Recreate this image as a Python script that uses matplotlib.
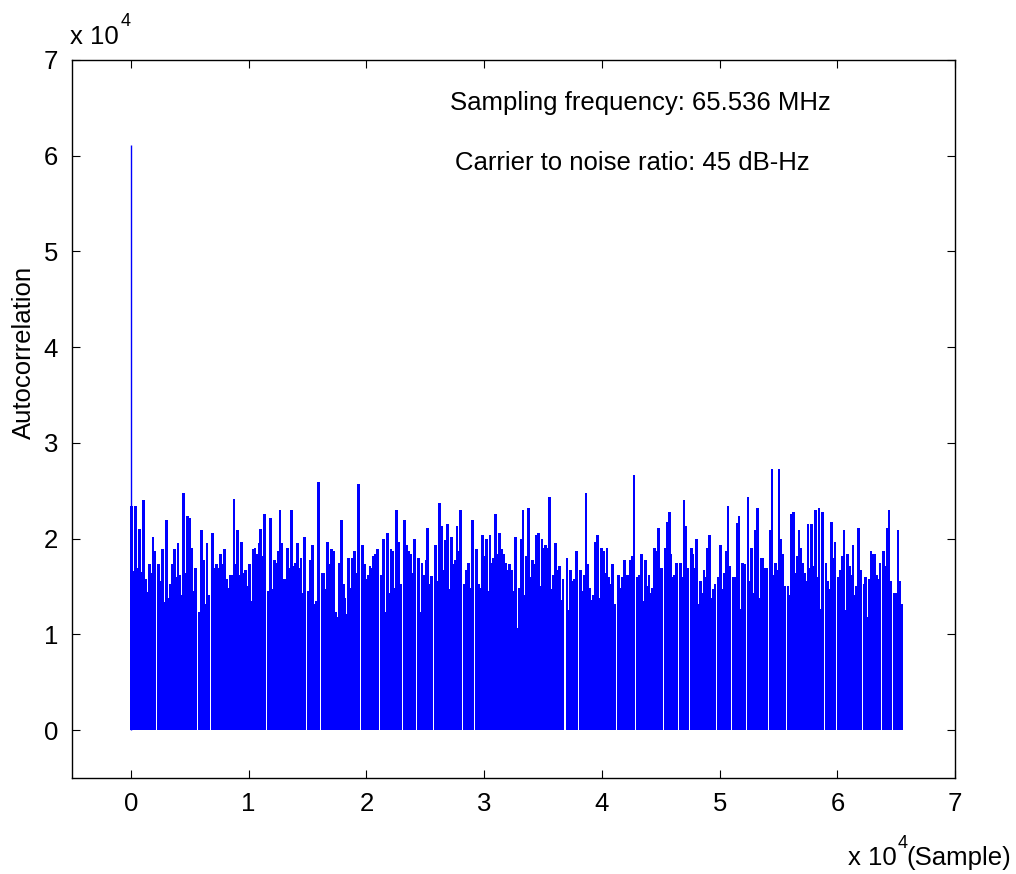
import matplotlib.pyplot as plt
import numpy as np

plt.rcParams['font.family'] = ['Liberation Sans', 'DejaVu Sans']

# autocorrelation, units of 1e4
# (0 marks the thin white gaps)
peak_at_zero = 6.115
seg1 = [2.34, 1.66, 2.34, 1.69, 2.1, 1.65, 2.4, 1.58, 1.44, 1.74, 1.64, 2.02, 1.87, 0, 1.74, 1.56, 1.89,
        1.34, 2.2, 1.38, 1.53, 1.74, 1.89, 1.6, 1.95, 1.62, 1.41, 2.48, 1.64, 2.24, 2.22, 1.9, 1.45, 1.69,
        0, 1.23, 2.09, 1.78, 1.32, 1.95, 1.41, 0, 2.06, 1.69, 1.74, 1.69, 1.84, 1.74, 1.89, 1.58, 1.49,
        1.62, 1.62, 2.41, 1.74, 2.09, 1.62, 1.97, 1.64, 1.67, 1.51, 1.74, 1.35, 1.89, 1.9, 1.84]
seg2 = [1.95, 2.1, 1.82, 2.26, 0, 1.45, 2.22, 1.47, 1.78, 1.75, 1.87, 2.3, 1.95, 1.58, 1.58, 1.9, 1.69,
        2.3, 1.71, 1.75, 1.95, 1.69, 1.8, 1.43, 2.02, 0, 1.45, 1.78, 1.93, 1.32, 1.35, 2.59, 0, 1.64, 1.64,
        1.47, 1.97, 1.74, 1.89, 1.87, 1.23, 1.18, 1.75, 2.2, 1.53, 1.38, 1.21, 1.8, 1.49, 1.8, 1.87, 1.64,
        2.57, 0, 1.93, 1.74, 1.58, 1.62, 1.71, 1.69, 1.82, 1.84, 1.89, 0, 1.62, 2.0, 1.23, 2.06]
seg3 = [1.43, 1.89, 1.87, 1.49, 2.3, 1.97, 1.53, 0, 2.2, 1.93, 1.87, 1.84, 1.64, 2.0, 0, 1.8, 1.23, 1.75,
        1.62, 1.78, 2.11, 1.53, 1.61, 0, 1.93, 1.56, 2.37, 2.13, 1.67, 1.99, 2.15, 1.47, 2.02, 1.74, 1.78,
        2.13, 1.87, 2.3, 0, 1.53, 1.67, 1.75, 1.49, 2.2, 0, 1.89, 1.53, 1.49, 2.04, 1.82, 2.0, 1.45, 2.04,
        1.75, 1.8, 2.26, 1.84, 2.06, 1.89, 1.84, 1.75, 1.67, 1.74, 1.67, 1.45, 2.02, 1.07]
seg4 = [1.49, 2.0, 2.3, 1.41, 1.82, 2.32, 1.6, 1.78, 1.74, 2.04, 2.06, 1.51, 2.0, 1.9, 1.93, 1.9, 2.44,
        1.47, 1.62, 1.95, 1.67, 1.71, 1.36, 1.58, 0, 1.8, 1.25, 1.67, 1.56, 1.58, 1.87, 0, 1.67, 1.45, 1.62,
        2.48, 1.74, 1.49, 1.36, 1.41, 1.97, 2.04, 1.38, 1.9, 1.87, 1.64, 1.9, 1.6, 1.53, 1.74, 1.32, 0,
        1.62, 1.49, 1.6, 1.78, 1.62, 1.62, 1.78, 1.82, 2.66, 0, 1.6, 1.62, 1.84, 1.35, 1.78, 1.51]
seg5 = [1.62, 1.43, 1.49, 1.9, 1.87, 2.11, 1.69, 1.69, 0, 1.9, 2.17, 2.28, 1.84, 1.6, 1.62, 1.75, 0, 1.75,
        1.6, 2.4, 2.13, 1.69, 0, 1.9, 1.84, 1.69, 2.0, 1.32, 1.56, 1.43, 1.67, 1.6, 1.9, 2.04, 1.38, 1.47,
        1.53, 0, 1.6, 1.93, 1.47, 1.64, 1.87, 2.34, 1.71, 0, 1.6, 1.6, 2.16, 2.24, 1.27, 1.75, 1.74, 0,
        2.44, 1.56, 1.9, 1.43, 2.09, 2.32, 1.38, 1.8, 1.8, 1.69, 1.69, 0, 2.09, 2.73, 1.62, 1.75, 1.67]
seg6 = [2.73, 2.0, 1.84, 1.51, 0, 1.51, 1.41, 2.26, 2.28, 1.64, 1.82, 2.09, 1.9, 1.75, 1.64, 1.56, 2.15,
        1.69, 2.15, 1.71, 2.3, 1.6, 2.32, 1.27, 2.28, 0, 1.75, 1.56, 1.47, 2.17, 1.8, 1.97, 0, 1.6, 1.67,
        1.82, 2.09, 1.25, 1.84, 1.71, 1.62, 1.93, 1.41, 1.51, 2.11, 1.67, 0, 1.53, 1.6, 1.18, 1.58, 1.87,
        1.84, 1.84, 1.62, 1.58, 1.75, 0, 1.87, 1.71, 2.11, 2.3, 1.56, 0, 1.43, 1.43, 2.09, 1.56, 1.32]
segments = [seg1, seg2, seg3, seg4, seg5, seg6]
# lag range (x 1e4 samples) that each segment was read from
seg_edges = [0.0, 1.079, 2.184, 3.288, 4.393, 5.497, 6.5536]

fig = plt.figure(figsize=(10.16, 8.74), dpi=100)
ax = fig.add_axes([0.0709, 0.1098, 0.8693, 0.8216])

for seg, a, b in zip(segments, seg_edges[:-1], seg_edges[1:]):
    step = (b - a) / len(seg)
    lags = a + step * (np.arange(len(seg)) + 0.5)
    ax.bar(lags, seg, width=step * 1.45, color='#0000ff', linewidth=0)
ax.vlines(0, 0, peak_at_zero, color='#0000ff', lw=1)

ax.set_xlim(-0.5, 7)
ax.set_ylim(-0.5, 7)
ax.set_xticks(range(8))
ax.set_yticks(range(8))
ax.tick_params(direction='in', length=6, width=0.8, top=True, right=True, labelsize=18.5, pad=10)
for s in ax.spines.values():
    s.set_linewidth(1.0)

ax.text(2.71, 6.55, 'Sampling frequency: 65.536 MHz', fontsize=18.5, va='center')
ax.text(2.75, 5.92, 'Carrier to noise ratio: 45 dB-Hz', fontsize=18.5, va='center')

fig.text(24 / 1016, 1 - 352 / 874, 'Autocorrelation', rotation=90, fontsize=18.5, ha='center', va='center')
# MATLAB style exponent labels
fig.text(70 / 1016, 1 - 37 / 874, 'x 10', fontsize=18.5, ha='left', va='center')
fig.text(121 / 1016, 1 - 22 / 874, '4', fontsize=13, ha='left', va='center')
fig.text(848 / 1016, 1 - 858 / 874, 'x 10', fontsize=18.5, ha='left', va='center')
fig.text(898 / 1016, 1 - 843 / 874, '4', fontsize=13, ha='left', va='center')
fig.text(906 / 1016, 1 - 858 / 874, '(Sample)', fontsize=18.5, ha='left', va='center')

fig.savefig('out.png', dpi=100)
